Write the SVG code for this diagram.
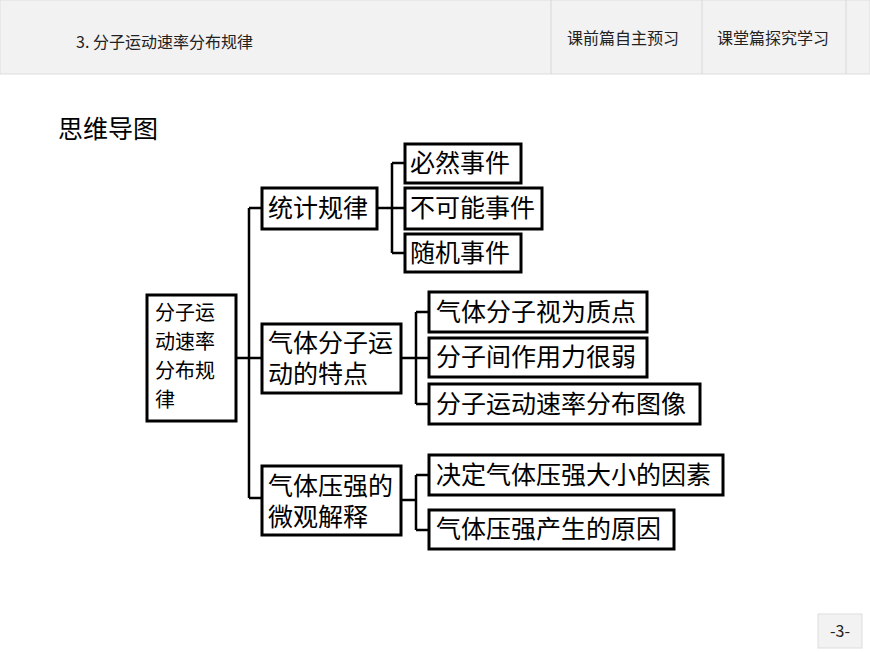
<svg xmlns="http://www.w3.org/2000/svg" width="870" height="653" viewBox="0 0 870 653">
<style>
.b{fill:#fff;stroke:#000;stroke-width:3}
.t{font-family:"Noto Sans CJK SC","Liberation Sans",sans-serif;font-size:25px;fill:#000}
.r{font-size:20px}
.h{font-family:"Noto Sans CJK SC","Liberation Sans",sans-serif;font-size:16px;fill:#222}
.c{fill:none;stroke:#000;stroke-width:2.5}
</style>
<rect width="870" height="653" fill="#fff"/>
<g id="header">
<rect x="0" y="0" width="870" height="74" fill="#f2f2f2" stroke="#ddd"/>
<line x1="551" y1="0" x2="551" y2="74" stroke="#d8d8d8"/>
<line x1="702" y1="0" x2="702" y2="74" stroke="#d8d8d8"/>
<line x1="846" y1="0" x2="846" y2="74" stroke="#d8d8d8"/>
<text class="h" x="76" y="48" font-size="18">3. 分子运动速率分布规律</text>
<text class="h" x="567" y="44">课前篇自主预习</text>
<text class="h" x="717" y="44">课堂篇探究学习</text>
</g>
<text class="t" x="58" y="138" font-size="22">思维导图</text>
<g id="connectors">
<path class="c" d="M236 358H262M249 208V498M249 208H262M249 498H262"/>
<path class="c" d="M377 208H405M392 163V253M392 163H405M392 253H405"/>
<path class="c" d="M401 358H429M416 312V404M416 312H429M416 404H429"/>
<path class="c" d="M401 500H416M416 475V530M416 475H429M416 530H429"/>
</g>
<g id="root"><rect class="b" x="147" y="295" width="89" height="126"/>
<text class="t r" x="155" y="320">分子运</text><text class="t r" x="155" y="349">动速率</text><text class="t r" x="155" y="378">分布规</text><text class="t r" x="155" y="407">律</text></g>
<g id="n1"><rect class="b" x="262" y="188" width="115" height="41"/><text class="t" x="268" y="217">统计规律</text></g>
<g id="n2"><rect class="b" x="262" y="324" width="139" height="69"/><text class="t" x="268" y="352">气体分子运</text><text class="t" x="268" y="383">动的特点</text></g>
<g id="n3"><rect class="b" x="262" y="466" width="139" height="69"/><text class="t" x="268" y="495">气体压强的</text><text class="t" x="268" y="526">微观解释</text></g>
<g id="s1"><rect class="b" x="405" y="144" width="116" height="39"/><text class="t" x="410" y="172">必然事件</text></g>
<g id="s2"><rect class="b" x="405" y="188" width="137" height="41"/><text class="t" x="410" y="217">不可能事件</text></g>
<g id="s3"><rect class="b" x="405" y="234" width="116" height="38"/><text class="t" x="410" y="262">随机事件</text></g>
<g id="s4"><rect class="b" x="429" y="292" width="218" height="40"/><text class="t" x="436" y="321">气体分子视为质点</text></g>
<g id="s5"><rect class="b" x="429" y="338" width="218" height="39"/><text class="t" x="436" y="366">分子间作用力很弱</text></g>
<g id="s6"><rect class="b" x="429" y="384" width="271" height="40"/><text class="t" x="436" y="413">分子运动速率分布图像</text></g>
<g id="s7"><rect class="b" x="429" y="455" width="294" height="40"/><text class="t" x="436" y="484">决定气体压强大小的因素</text></g>
<g id="s8"><rect class="b" x="429" y="510" width="245" height="39"/><text class="t" x="436" y="538">气体压强产生的原因</text></g>
<g id="page"><rect x="818" y="614" width="44" height="34" fill="#f2f2f2" stroke="#ddd"/><text class="h" x="840" y="637" font-size="14" text-anchor="middle" fill="#555">-3-</text></g>
</svg>
